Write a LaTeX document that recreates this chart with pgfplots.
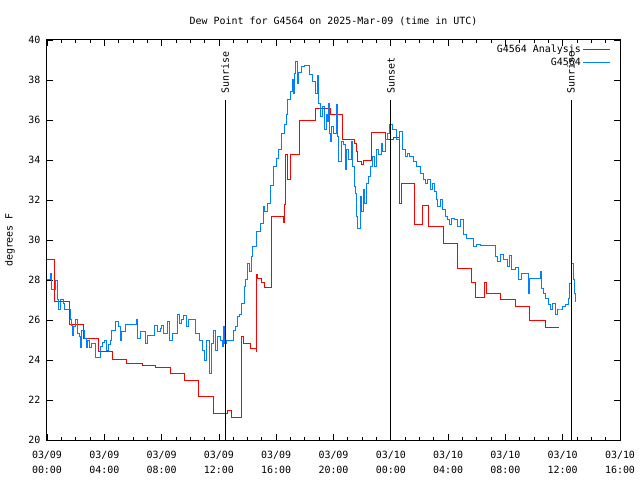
\documentclass[border=0pt]{standalone}
\usepackage{fontspec}
\setmainfont{DejaVu Sans Mono}
\setmonofont{DejaVu Sans Mono}
\usepackage{pgfplots}
\pgfplotsset{compat=1.18}
\definecolor{gpred}{RGB}{255,0,0}
\definecolor{gpblue}{RGB}{0,128,255}
\begin{document}
\begin{tikzpicture}
\useasboundingbox (-47bp,-40bp) rectangle (593bp,440bp);
\begin{axis}[
  at={(0bp,0bp)}, anchor=south west,
  scale only axis, width=573bp, height=400bp,
  xmin=0, xmax=40, ymin=20, ymax=40,
  xtick={0,4,...,40},
  xticklabels={03/09\\00:00,03/09\\04:00,03/09\\08:00,03/09\\12:00,03/09\\16:00,03/09\\20:00,03/10\\00:00,03/10\\04:00,03/10\\08:00,03/10\\12:00,03/10\\16:00},
  minor x tick num=3,
  ytick={20,22,...,40},
  yticklabels={20,22,24,26,28,30,32,34,36,38,40},
  tick align=inside,
  major tick length=6bp, minor tick length=3bp,
  every tick/.style={black, line width=0.8bp},
  axis line style={line width=1bp},
  font=\fontsize{10}{12}\selectfont,
  xticklabel style={align=center, font=\fontsize{10}{15}\selectfont, yshift=-8bp},
  yticklabel style={xshift=-3bp},
  title={Dew Point for G4564 on 2025-Mar-09 (time in UTC)},
  title style={at={(axis description cs:0.5,1)}, anchor=center, yshift=13bp},
  ylabel={degrees F},
  every axis y label/.style={at={(axis description cs:-0.0646,0.5)}, rotate=90, anchor=center},
  legend style={at={(axis description cs:1,1)}, anchor=north east, draw=none, fill=none,
    font=\fontsize{10}{12}\selectfont, xshift=-6bp, yshift=-1bp},
  legend cell align=right,
  legend plot pos=right,
  legend image code/.code={\draw[#1] (0bp,0bp) -- (27bp,0bp);},
]
\addplot[gpred, line width=1bp, mark=none, const plot] coordinates {
(0,29.03) (0.51,26.93) (1.58,25.78) (2.56,25.07) (3.60,24.43) (4.58,24.03) (5.58,23.83) (6.65,23.73) (7.60,23.62) (8.59,23.33) (9.59,22.98) (10.61,22.2) (11.63,21.32) (12.61,21.47) (12.89,21.13) (13.61,25.17) (13.75,24.83) (14.22,24.58) (14.59,24.42) (14.64,28.28) (14.70,28.08) (14.96,27.88) (15.20,27.63) (15.64,31.17) (16.54,30.87) (16.61,31.75) (16.66,34.28) (16.77,33.0) (17.01,34.28) (17.61,35.95) (18.71,36.58) (19.76,36.28) (20.61,35.03) (21.50,34.83) (21.64,34.42) (21.71,33.92) (21.97,33.75) (22.06,33.97) (22.67,35.37) (23.64,35.03) (24.18,35.13) (24.64,31.83) (24.78,32.83) (25.67,30.78) (26.22,31.72) (26.64,30.68) (27.67,29.83) (28.67,28.58) (29.65,27.88) (29.93,27.13) (30.55,27.87) (30.67,27.3) (31.67,27.03) (32.67,26.68) (33.69,25.98) (34.77,25.63) (35.76,25.63)
};
\addlegendentry{G4564 Analysis}
\addplot[gpblue, line width=1bp, mark=none, const plot] coordinates {
(0.00,28.0) (0.21,28.33) (0.33,27.5) (0.58,27.95) (0.76,27.03) (0.82,26.53) (0.91,27.0) (1.12,26.83) (1.19,26.53) (1.61,26.0) (1.68,25.75) (1.75,25.25) (1.88,25.67) (2.02,26.0) (2.16,25.33) (2.30,25.17) (2.37,24.63) (2.44,25.5) (2.65,25.08) (2.79,24.63) (2.86,25.0) (3.00,24.63) (3.14,24.83) (3.42,24.13) (3.70,24.67) (3.84,24.87) (3.98,25.0) (4.12,24.5) (4.26,24.77) (4.40,25.0) (4.47,25.5) (4.75,25.92) (4.96,25.67) (5.10,25.0) (5.17,25.42) (5.51,25.78) (6.28,26.0) (6.35,25.08) (6.42,25.08) (6.56,25.42) (6.91,24.83) (7.05,25.25) (7.47,25.75) (7.68,25.42) (7.89,25.58) (7.96,25.75) (8.10,25.33) (8.38,25.92) (8.52,25.0) (8.73,25.33) (9.14,26.25) (9.28,25.83) (9.42,26.0) (9.56,26.2) (9.77,25.67) (9.91,26.0) (10.40,25.33) (10.68,25.0) (10.89,24.5) (10.96,24.0) (11.10,25.0) (11.31,23.33) (11.45,24.83) (11.59,25.5) (11.73,24.5) (11.87,25.17) (12.08,25.0) (12.22,24.67) (12.29,25.67) (12.36,24.83) (12.50,25.0) (13.05,25.5) (13.19,25.67) (13.33,26.17) (13.47,26.25) (13.61,26.83) (13.82,27.67) (13.89,28.0) (14.03,28.83) (14.17,28.42) (14.31,29.17) (14.38,29.67) (14.59,30.42) (14.87,30.83) (15.08,31.67) (15.15,31.42) (15.36,31.8) (15.57,32.7) (15.78,33.67) (15.99,34.08) (16.13,34.5) (16.40,35.33) (16.61,35.75) (16.75,36.25) (16.82,37.0) (17.03,37.42) (17.17,38.0) (17.24,37.3) (17.31,38.3) (17.38,38.92) (17.52,37.83) (17.59,38.37) (17.80,38.67) (18.01,38.7) (18.29,38.25) (18.50,37.92) (18.71,37.33) (18.85,38.2) (18.92,36.83) (19.06,36.17) (19.20,36.67) (19.34,35.5) (19.48,36.25) (19.55,35.92) (19.62,36.83) (19.69,35.33) (19.76,34.92) (19.83,35.67) (19.97,35.33) (20.24,36.75) (20.31,35.17) (20.38,33.92) (20.59,34.92) (20.73,34.75) (20.87,33.5) (20.94,34.5) (21.08,34.0) (21.29,34.92) (21.36,33.67) (21.50,32.67) (21.57,32.33) (21.64,31.17) (21.71,30.58) (21.85,32.17) (21.92,31.42) (22.06,32.5) (22.13,31.83) (22.27,32.83) (22.41,33.17) (22.55,33.67) (22.69,34.17) (22.83,33.67) (22.97,34.5) (23.11,34.25) (23.32,34.83) (23.39,34.42) (23.60,35.0) (23.80,35.33) (23.94,35.75) (24.15,35.5) (24.43,35.03) (24.64,35.42) (24.85,34.5) (25.06,34.17) (25.20,34.33) (25.34,34.17) (25.55,33.92) (25.76,33.67) (26.04,33.33) (26.25,33.0) (26.39,32.8) (26.53,33.0) (26.74,32.5) (26.88,32.83) (27.02,32.42) (27.16,32.0) (27.29,31.67) (27.50,32.0) (27.64,31.5) (27.85,31.17) (27.99,31.0) (28.13,30.75) (28.27,31.08) (28.48,31.0) (28.69,30.67) (28.90,31.0) (29.04,30.25) (29.25,30.08) (29.74,29.67) (29.95,29.75) (30.23,29.7) (31.34,29.17) (31.48,28.92) (31.69,29.25) (31.90,29.0) (32.18,28.67) (32.32,29.2) (32.46,28.5) (32.67,28.63) (32.88,28.0) (33.09,28.33) (33.58,27.33) (33.65,28.08) (34.42,28.42) (34.55,27.58) (34.69,27.33) (34.83,27.08) (35.04,26.75) (35.18,26.5) (35.32,26.83) (35.53,26.25) (35.67,26.5) (35.81,26.5) (36.02,26.67) (36.23,26.75) (36.37,27.08) (36.44,27.83) (36.58,28.83) (36.72,28.0) (36.79,27.33) (36.86,26.92)
};
\addlegendentry{G4564}
\addplot[black, line width=1bp, forget plot] coordinates {(12.43,20) (12.43,37)};
\addplot[black, line width=1bp, forget plot] coordinates {(24.01,20) (24.01,37)};
\addplot[black, line width=1bp, forget plot] coordinates {(36.58,20) (36.58,37)};
\node[rotate=90, anchor=west, font=\fontsize{10}{12}\selectfont, inner sep=0pt] at (axis cs:12.43,37.3) {Sunrise};
\node[rotate=90, anchor=west, font=\fontsize{10}{12}\selectfont, inner sep=0pt] at (axis cs:24.01,37.3) {Sunset};
\node[rotate=90, anchor=west, font=\fontsize{10}{12}\selectfont, inner sep=0pt] at (axis cs:36.58,37.3) {Sunrise};
\end{axis}
\end{tikzpicture}
\end{document}
